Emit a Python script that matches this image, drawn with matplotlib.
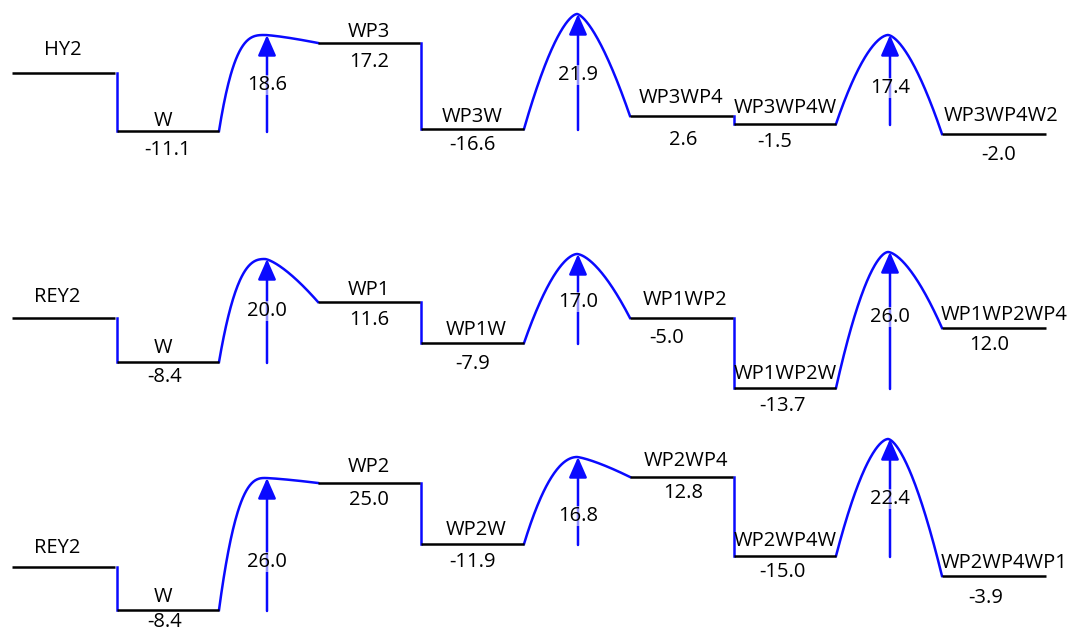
import numpy as np
import matplotlib
matplotlib.use("Agg")
import matplotlib.pyplot as plt

plt.rcParams['font.family'] = ['Open Sans', 'DejaVu Sans']

# ---------------- data ----------------
rows = ["HY2 pathway", "REY2 pathway (WP1 first)", "REY2 pathway (WP2 first)"]

names = [
    ["HY2", "W", "WP3", "WP3W", "WP3WP4", "WP3WP4W", "WP3WP4W2"],
    ["REY2", "W", "WP1", "WP1W", "WP1WP2", "WP1WP2W", "WP1WP2WP4"],
    ["REY2", "W", "WP2", "WP2W", "WP2WP4", "WP2WP4W", "WP2WP4WP1"],
]
# relative energies printed under each level (first level has none)
energies = [
    [None, "-11.1", "17.2", "-16.6", "2.6", "-1.5", "-2.0"],
    [None, "-8.4", "11.6", "-7.9", "-5.0", "-13.7", "12.0"],
    [None, "-8.4", "25.0", "-11.9", "12.8", "-15.0", "-3.9"],
]
# barrier heights printed on the arrows
barriers = [
    ["18.6", "21.9", "17.4"],
    ["20.0", "17.0", "26.0"],
    ["26.0", "16.8", "22.4"],
]
# schematic drawn heights of the levels (image-y units)
levels = [
    [73, 131, 43, 129, 116, 124, 134],
    [318, 362, 302, 343, 318, 388, 328],
    [567, 610, 483, 544, 477, 556, 576],
]
peaks = [
    [35, 14, 35],
    [259, 254, 252],
    [478, 457, 439],
]

# ---------------- layout ----------------
seg_x = [(12, 115), (117, 219), (318, 420), (421, 524),
         (630, 733), (734, 836), (942, 1046)]
peak_x = [265, 577, 888]
arrow_x = [267, 578, 890]
barrier_after = {1: 0, 3: 1, 5: 2}   # level index -> barrier index
# curve shape exponents (rise, fall) per barrier
shape = [
    [(3.0, 1.3), (1.6, 1.5), (1.7, 1.6)],
    [(2.6, 1.4), (1.7, 1.6), (1.7, 1.6)],
    [(2.6, 1.3), (2.0, 1.3), (1.7, 1.6)],
]

name_off = [
    [23, 10, 11, 12, 18, 16, 18],
    [21, 14, 12, 13, 18, 14, 13],
    [19, 13, 16, 14, 16, 15, 13],
]
val_off = [
    [0, 19, 19, 16, 24, 18, 21],
    [0, 15, 18, 21, 20, 18, 17],
    [0, 12, 17, 18, 16, 16, 22],
]
name_dx = [
    [-1, -5, 0, 0, 0, 0, 7],
    [-6, -5, 0, 4, 4, 0, 10],
    [-6, -5, 0, 4, 4, 0, 10],
]
val_dx = [
    [0, 0, 0, 0, 2, -10, 5],
    [0, -3, 0, 0, -15, -3, -5],
    [0, -3, 0, 0, 2, -3, -8],
]
arrow_label_y = [
    [85, 75, 88],
    [311, 302, 317],
    [562, 516, 499],
]

BLUE = "#0a0aff"
FS = 14.5

fig = plt.figure(figsize=(10.69, 6.30), dpi=100)
ax = fig.add_axes([0, 0, 1, 1])
ax.set_xlim(0, 1069)
ax.set_ylim(630, 0)
ax.axis("off")

for r in range(3):
    lv = levels[r]
    for i in range(7):
        x0, x1 = seg_x[i]
        ax.plot([x0, x1], [lv[i], lv[i]], color="black", lw=1.8,
                solid_capstyle="butt", zorder=3)
        xc = (x0 + x1) / 2
        ax.text(xc + name_dx[r][i], lv[i] - name_off[r][i], names[r][i],
                ha="center", va="center", fontsize=FS, color="black", zorder=5)
        if energies[r][i] is not None:
            ax.text(xc + val_dx[r][i], lv[i] + val_off[r][i], energies[r][i],
                    ha="center", va="center", fontsize=FS, color="black", zorder=5)
        if i == 6:
            continue
        if i in barrier_after:
            b = barrier_after[i]
            xs = x1
            xe = seg_x[i + 1][0]
            xp = peak_x[b]
            P = peaks[r][b]
            kL, kR = shape[r][b]
            t = np.linspace(0, 1, 80)
            xl = xs + (xp - xs) * t
            yl = lv[i] + (P - lv[i]) * (1 - (1 - t) ** kL)
            xr = xp + (xe - xp) * t
            yr = P + (lv[i + 1] - P) * t ** kR
            ax.plot(np.concatenate([xl, xr]), np.concatenate([yl, yr]),
                    color=BLUE, lw=1.8, zorder=2)
            xa = arrow_x[b]
            ax.annotate("", xy=(xa, P), xytext=(xa, lv[i] + 1),
                        arrowprops=dict(arrowstyle="-|>,head_length=1.25,head_width=0.55",
                                        color=BLUE, lw=1.8, shrinkA=0, shrinkB=0),
                        zorder=4)
            ax.text(xa, arrow_label_y[r][b], barriers[r][b], ha="center", va="center",
                    fontsize=FS, color="black", zorder=6,
                    bbox=dict(facecolor="white", alpha=0.55, edgecolor="none", pad=0))
        else:
            xs = seg_x[i + 1][0]
            ax.plot([xs, xs], [lv[i], lv[i + 1]], color=BLUE, lw=1.8, zorder=2)

fig.savefig("out.png", dpi=100)
